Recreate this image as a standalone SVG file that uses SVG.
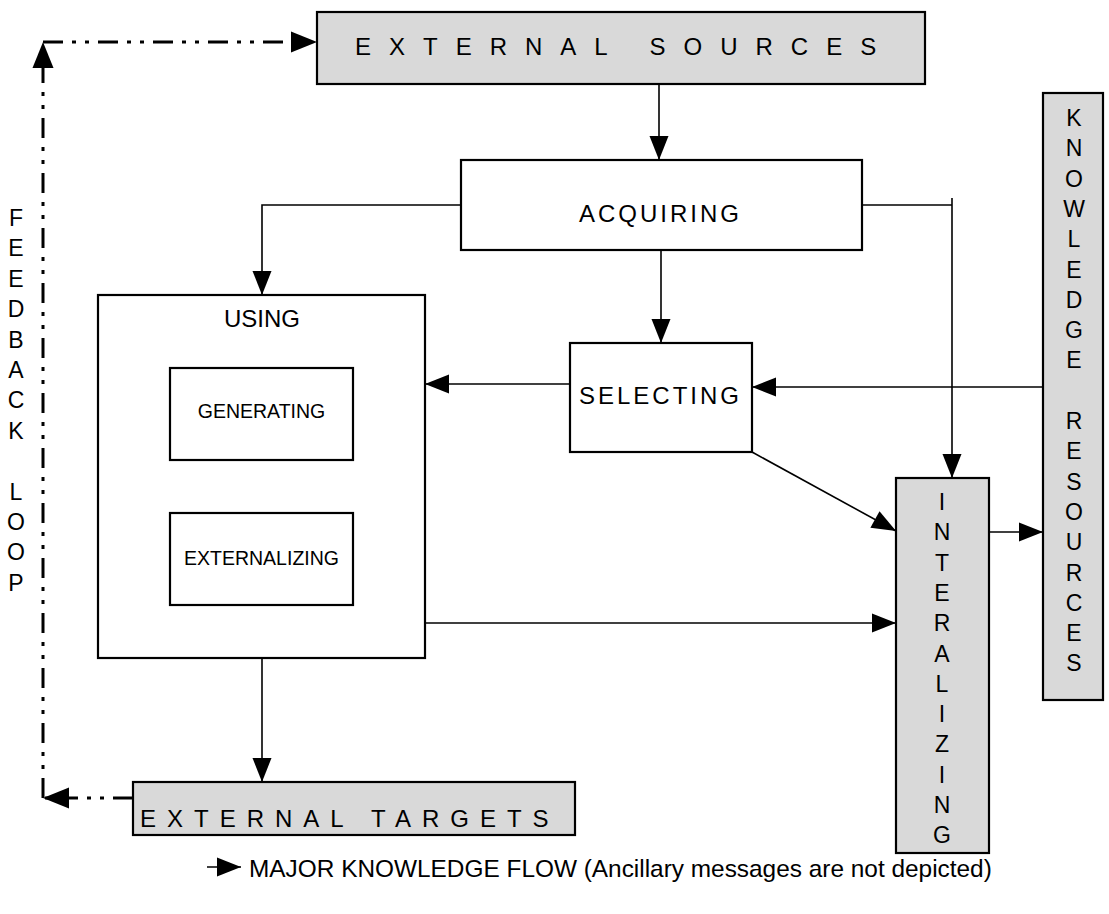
<svg xmlns="http://www.w3.org/2000/svg" width="1109" height="914" viewBox="0 0 1109 914">
<style>
.box{fill:#fff;stroke:#000;stroke-width:2.2}
.gbox{fill:#d9d9d9;stroke:#000;stroke-width:2.2}
.t{font-family:"Liberation Sans",Arial,sans-serif;fill:#000}
.c{fill:none;stroke:#000;stroke-width:1.6}
.fb{fill:none;stroke:#000;stroke-width:3;stroke-dasharray:20 9 4 9 4 9}
</style>
<defs>
<marker id="ah" markerUnits="userSpaceOnUse" markerWidth="24" markerHeight="20" refX="24" refY="10" orient="auto" overflow="visible"><path d="M0,0.5 L24,10 L0,19.5 z" fill="#000"/></marker>
<marker id="ahb" markerUnits="userSpaceOnUse" markerWidth="26" markerHeight="21" refX="26" refY="10.5" orient="auto" overflow="visible"><path d="M0,0 L26,10.5 L0,21 z" fill="#000"/></marker>
</defs>

<g id="connectors">
<line class="fb" x1="43" y1="798" x2="43" y2="42" marker-end="url(#ahb)"/>
<line class="fb" x1="43" y1="42" x2="317" y2="42" marker-end="url(#ahb)"/>
<line class="fb" x1="133" y1="798" x2="43" y2="798" marker-end="url(#ahb)"/>
<line class="c" x1="659" y1="85" x2="659" y2="160" marker-end="url(#ah)"/>
<polyline class="c" points="461,205 262,205 262,295" marker-end="url(#ah)"/>
<line class="c" x1="862" y1="205" x2="952" y2="205"/>
<line class="c" x1="952" y1="198" x2="952" y2="478" marker-end="url(#ah)"/>
<line class="c" x1="661" y1="250" x2="661" y2="343" marker-end="url(#ah)"/>
<line class="c" x1="570" y1="384" x2="425" y2="384" marker-end="url(#ah)"/>
<line class="c" x1="1043" y1="387" x2="752" y2="387" marker-end="url(#ah)"/>
<line class="c" x1="752" y1="452" x2="896" y2="531" marker-end="url(#ah)"/>
<line class="c" x1="425" y1="623" x2="896" y2="623" marker-end="url(#ah)"/>
<line class="c" x1="989" y1="532" x2="1043" y2="532" marker-end="url(#ah)"/>
<line class="c" x1="262" y1="658" x2="262" y2="782" marker-end="url(#ah)"/>
<line class="c" x1="207" y1="867" x2="241" y2="867" marker-end="url(#ah)"/>
</g>

<g id="external-sources">
<rect class="gbox" x="317" y="12" width="608" height="72"/>
<text class="t" x="355" y="55" font-size="24" letter-spacing="18">EXTERNAL SOURCES</text>
</g>

<g id="acquiring">
<rect class="box" x="461" y="160" width="401" height="90"/>
<text class="t" x="579" y="222" font-size="24" letter-spacing="3">ACQUIRING</text>
</g>

<g id="using">
<rect class="box" x="98" y="295" width="327" height="363"/>
<text class="t" x="262" y="327" font-size="24" text-anchor="middle">USING</text>
</g>

<g id="generating">
<rect class="box" x="170" y="368" width="183" height="92"/>
<text class="t" x="261.5" y="418" font-size="19.5" text-anchor="middle">GENERATING</text>
</g>

<g id="externalizing">
<rect class="box" x="170" y="513" width="183" height="92"/>
<text class="t" x="261.5" y="565" font-size="19.5" text-anchor="middle">EXTERNALIZING</text>
</g>

<g id="selecting">
<rect class="box" x="570" y="343" width="182" height="109"/>
<text class="t" x="579" y="404" font-size="24" letter-spacing="3">SELECTING</text>
</g>

<g id="knowledge-resources">
<rect class="gbox" x="1043" y="93" width="60" height="607"/>
<text class="t" font-size="23" text-anchor="middle">
<tspan x="1074" y="126">K</tspan><tspan x="1074" y="156.3">N</tspan><tspan x="1074" y="186.6">O</tspan><tspan x="1074" y="216.9">W</tspan><tspan x="1074" y="247.2">L</tspan><tspan x="1074" y="277.5">E</tspan><tspan x="1074" y="307.8">D</tspan><tspan x="1074" y="338.1">G</tspan><tspan x="1074" y="368.4">E</tspan><tspan x="1074" y="429">R</tspan><tspan x="1074" y="459.3">E</tspan><tspan x="1074" y="489.6">S</tspan><tspan x="1074" y="519.9">O</tspan><tspan x="1074" y="550.2">U</tspan><tspan x="1074" y="580.5">R</tspan><tspan x="1074" y="610.8">C</tspan><tspan x="1074" y="641.1">E</tspan><tspan x="1074" y="671.4">S</tspan>
</text>
</g>

<g id="interalizing">
<rect class="gbox" x="896" y="478" width="93" height="375"/>
<text class="t" font-size="23" text-anchor="middle">
<tspan x="942" y="510">I</tspan><tspan x="942" y="540.3">N</tspan><tspan x="942" y="570.6">T</tspan><tspan x="942" y="600.9">E</tspan><tspan x="942" y="631.2">R</tspan><tspan x="942" y="661.5">A</tspan><tspan x="942" y="691.8">L</tspan><tspan x="942" y="722.1">I</tspan><tspan x="942" y="752.4">Z</tspan><tspan x="942" y="782.7">I</tspan><tspan x="942" y="813">N</tspan><tspan x="942" y="843.3">G</tspan>
</text>
</g>

<g id="external-targets">
<rect class="gbox" x="133" y="782" width="442" height="53"/>
<text class="t" x="140" y="827" font-size="24" letter-spacing="11">EXTERNAL TARGETS</text>
</g>

<g id="feedback-loop">
<text class="t" font-size="23" text-anchor="middle">
<tspan x="16" y="226">F</tspan><tspan x="16" y="256.4">E</tspan><tspan x="16" y="286.8">E</tspan><tspan x="16" y="317.2">D</tspan><tspan x="16" y="347.6">B</tspan><tspan x="16" y="378">A</tspan><tspan x="16" y="408.4">C</tspan><tspan x="16" y="438.8">K</tspan><tspan x="16" y="499.6">L</tspan><tspan x="16" y="530">O</tspan><tspan x="16" y="560.4">O</tspan><tspan x="16" y="590.8">P</tspan>
</text>
</g>

<g id="legend">
<text class="t" x="249" y="877" font-size="24.4">MAJOR KNOWLEDGE FLOW (Ancillary messages are not depicted)</text>
</g>
</svg>
